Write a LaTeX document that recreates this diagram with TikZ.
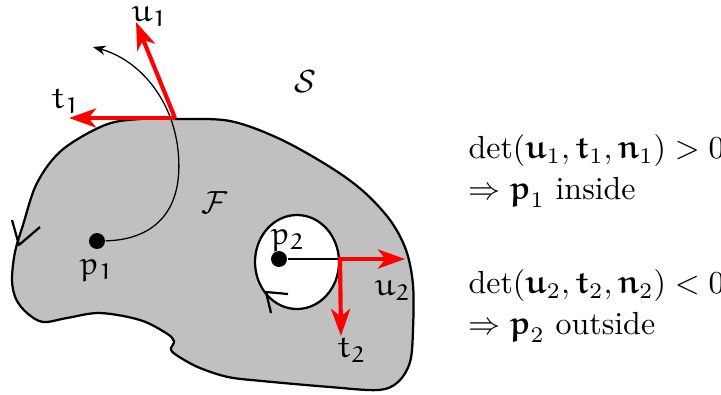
\documentclass[tikz,border=0pt]{standalone}
\usepackage{amssymb}
\usepackage{amsmath}
\usepackage{tikz}
\usetikzlibrary{arrows.meta, positioning}
\definecolor{regiongray}{HTML}{C0C0C0}
\DeclareMathAlphabet{\mathEu}{U}{eur}{m}{n}
\SetMathAlphabet{\mathEu}{bold}{U}{eur}{b}{n}
\newcommand{\eu}[2]{\mathEu{#1}_{\mathEu{#2}}}
\newcommand{\beu}[2]{\text{\boldmath$\mathEu{#1}$}_{#2}}

\begin{document}
\begin{tikzpicture}[x=0.011cm, y=-0.011cm,
    vec/.style={-{Stealth[length=8.5pt, width=6pt, inset=2.4pt]}, line width=1.3pt, red},
    rayarr/.style={-{Stealth[length=4pt, width=3pt]}, line width=0.4pt},
    bound/.style={line width=0.7pt, line join=round},
    dot/.style={circle, fill=black, inner sep=0pt, minimum size=5pt},
    lbl/.style={inner sep=1pt},
    res/.style={anchor=west, align=left, inner sep=0pt}
  ]
    \useasboundingbox (0,0) rectangle (721,394);
    % the region F with its boundary
    \draw[bound, fill=regiongray] plot[smooth cycle, tension=0.55] coordinates {
      (177,119) (230,121) (280,139) (330,167) (363,191) (390,220) (406,250)
      (413,285) (413,330) (410,362) (398,382) (378,390) (330,387) (262,381)
      (228,377) (200,368) (181,358) (171,350) (174,341) (166,333) (140,320)
      (100,313) (67,318) (43,322) (27,313) (16,299) (12,280) (15,252)
      (23,225) (37,183) (62,150) (105,125) (140,119)};
    \draw[bound] (12,220) -- (19,245) -- (40,227);
    % hole
    \draw[bound, fill=white] (297,262) ellipse [x radius=42, y radius=47];
    \draw[bound] (288,294) -- (266,292) -- (271,313);
    \node[lbl] (S) at (305,82) {$\mathcal{S}$};
    \node[lbl] (F) at (215,203) {$\mathcal{F}$};
    % point p1, ray leaving the region
    \node[dot] (p1) at (97,241) {};
    \node[lbl, below=2pt of p1] (p1l) {$\eu{p}{1}$};
    \coordinate (q1) at (93,47);
    \draw[rayarr] (p1) .. controls (150,240) and (185,215) .. (178,150)
      .. controls (172.6,100) and (140,60) .. (q1);
    \coordinate (o1) at (175,118);
    \coordinate (u1) at (136,22);
    \coordinate (t1) at (69,118);
    \draw[vec] (o1) -- (u1);
    \draw[vec] (o1) -- (t1);
    \node[lbl] (u1l) at (150,17) {$\eu{u}{1}$};
    \node[lbl] (t1l) at (66,101) {$\eu{t}{1}$};
    % point p2, ray hitting the hole
    \node[dot] (p2) at (279,259) {};
    \node[lbl] (p2l) at (288,240) {$\eu{p}{2}$};
    \coordinate (o2) at (340,259);
    \coordinate (u2) at (405,259);
    \coordinate (t2) at (341,336);
    \draw[line width=0.4pt] (p2) -- (o2);
    \draw[vec] ([xshift=-0.65pt]o2) -- (u2);
    \draw[vec] (o2) -- (t2);
    \node[lbl] (u2l) at (393,291) {$\eu{u}{2}$};
    \node[lbl] (t2l) at (352,350) {$\eu{t}{2}$};
    % results
    \node[res] (r1) at (468,171) {$\det(\beu{u}{1},\beu{t}{1},\beu{n}{1})>0$\\[1pt]$\Rightarrow \beu{p}{1}$ inside};
    \node[res] (r2) at (468,306) {$\det(\beu{u}{2},\beu{t}{2},\beu{n}{2})<0$\\[1pt]$\Rightarrow \beu{p}{2}$ outside};
  \end{tikzpicture}
\end{document}
